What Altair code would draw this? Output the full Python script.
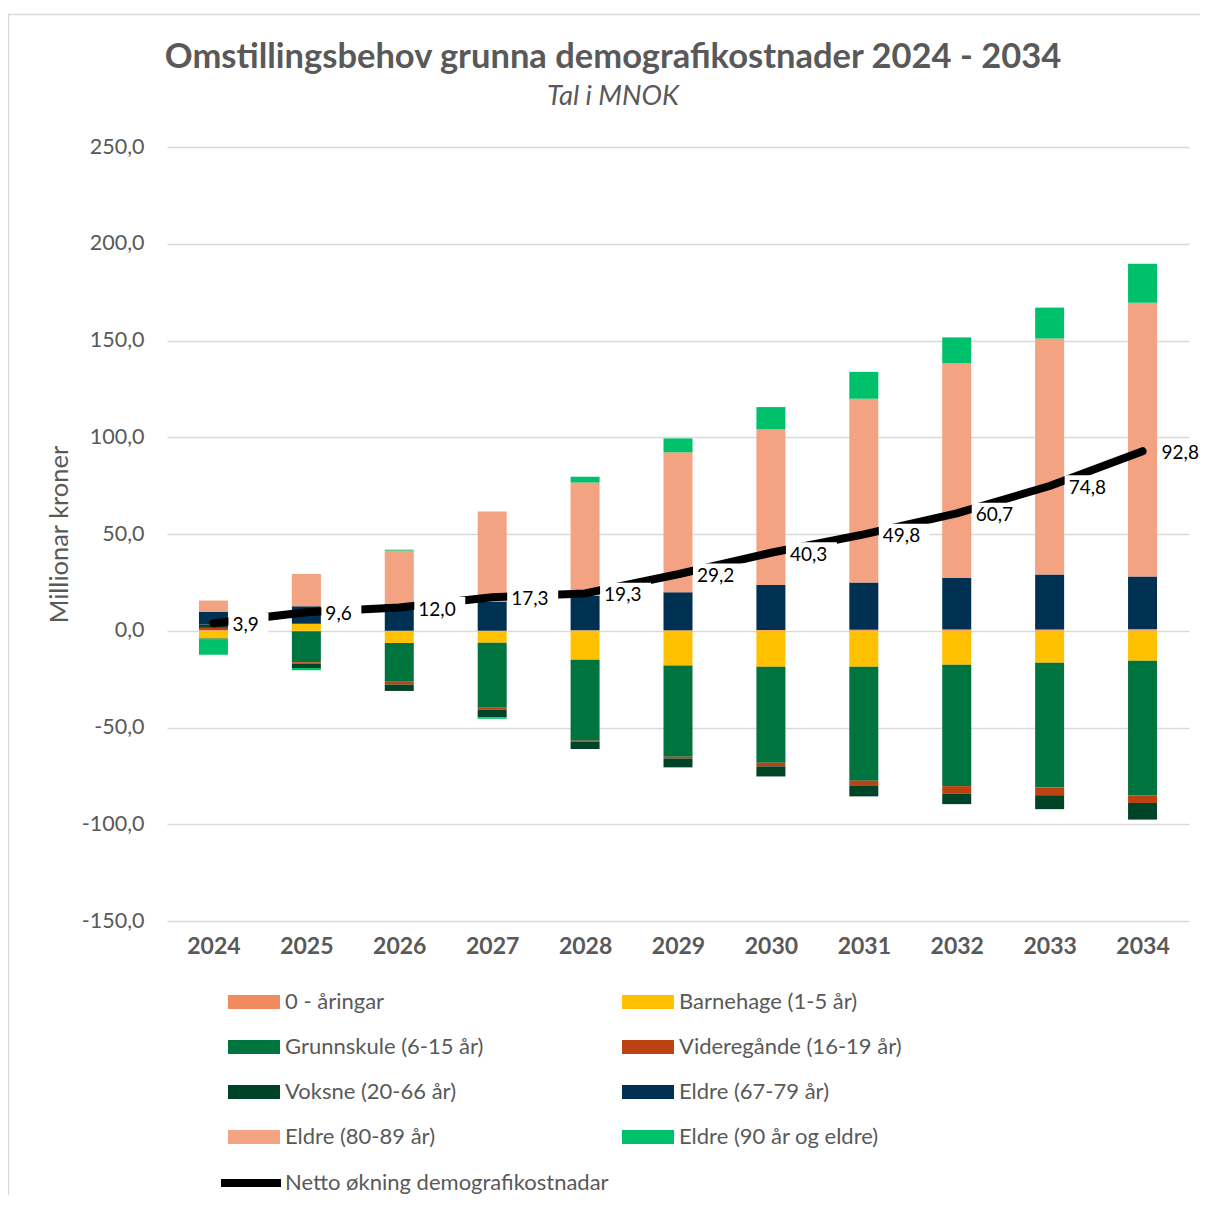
import altair as alt
import pandas as pd

years = [2024, 2025, 2026, 2027, 2028, 2029, 2030, 2031, 2032, 2033, 2034]

series = [
    "0 - åringar",
    "Barnehage (1-5 år)",
    "Grunnskule (6-15 år)",
    "Videregånde (16-19 år)",
    "Voksne (20-66 år)",
    "Eldre (67-79 år)",
    "Eldre (80-89 år)",
    "Eldre (90 år og eldre)",
]
colors = ["#F08A5F", "#FFC000", "#00743F", "#BC4212", "#004427", "#003152", "#F3A381", "#00C16B"]

null_aar = [0.3, -0.3, -0.3, -0.2, 0.2, 0.3, 0.4, 0.5, 0.6, 0.7, 0.9]
barnehage = [-4.0, 3.6, -6.0, -6.0, -15.0, -17.9, -18.6, -18.6, -17.6, -16.5, -15.5]
grunnskule = [-0.6, -16.0, -20.1, -33.6, -41.8, -47.2, -49.6, -58.9, -62.7, -64.4, -69.5]
videregaande = [1.2, -0.7, -1.4, -1.0, -0.5, -0.9, -1.9, -2.4, -3.8, -4.1, -4.0]
voksne = [1.7, -2.2, -3.3, -4.0, -3.8, -4.6, -5.2, -5.7, -5.5, -7.2, -8.6]
eldre_67_79 = [6.5, 9.0, 14.0, 15.1, 17.7, 19.6, 23.2, 24.4, 26.7, 28.4, 27.2]
eldre_80_89 = [5.9, 16.7, 27.4, 46.5, 58.7, 72.3, 80.6, 95.0, 110.9, 121.9, 141.4]
eldre_90 = [-7.8, -1.2, 0.5, -0.7, 3.0, 7.2, 11.4, 13.9, 13.4, 16.0, 20.1]

netto = [3.9, 9.6, 12.0, 17.3, 19.3, 29.2, 40.3, 49.8, 60.7, 74.8, 92.8]
netto_name = "Netto økning demografikostnadar"

title_text = "Omstillingsbehov grunna demografikostnader 2024 - 2034"
subtitle_text = "Tal i MNOK"

FONT = "Lato"
GREY = "#595959"

values = [null_aar, barnehage, grunnskule, videregaande, voksne, eldre_67_79, eldre_80_89, eldre_90]
rows = []
for si, (name, vals) in enumerate(zip(series, values)):
    for y, v in zip(years, vals):
        rows.append({"year": y, "serie": name, "value": v, "order": si})
bars_df = pd.DataFrame(rows)

line_df = pd.DataFrame({
    "year": years,
    "netto": netto,
    "serie": [netto_name] * len(years),
    "label": [f"{v:.1f}".replace(".", ",") for v in netto],
})

W, H = 1022, 774
px_per_year = W / 11.0

xscale = alt.Scale(domain=[2023.5, 2034.5], nice=False, zero=False, padding=0)
yscale = alt.Scale(domain=[-150, 250], nice=False)

x_axis = alt.Axis(
    values=years, format="d", title=None, grid=False, domain=False, ticks=False,
    labelFont=FONT, labelFontSize=23, labelFontWeight="bold", labelColor=GREY,
    labelPadding=14,
)
y_axis = alt.Axis(
    values=list(range(-150, 251, 50)), title="Millionar kroner",
    labelExpr="replace(replace(format(datum.value, '.1f'), '.', ','), '\u2212', '-')",
    grid=True, gridColor="#d9d9d9", gridWidth=1.4, domain=False, ticks=False,
    labelFont=FONT, labelFontSize=21.5, labelColor=GREY, labelPadding=23,
    titleFont=FONT, titleFontSize=25.5, titleFontWeight="normal", titleColor=GREY,
    titlePadding=9,
)

bars = alt.Chart(bars_df).mark_bar(size=29).encode(
    x=alt.X("year:Q", scale=xscale, axis=x_axis),
    y=alt.Y("value:Q", scale=yscale, axis=y_axis, stack="zero"),
    color=alt.Color(
        "serie:N",
        scale=alt.Scale(domain=series, range=colors),
        sort=series,
        legend=alt.Legend(
            orient="none", direction="horizontal", legendX=61, legendY=829,
            columns=2, columnPadding=138, rowPadding=8,
            symbolType="M-1,-0.27L1,-0.27L1,0.27L-1,0.27Z",
            symbolSize=2704, symbolStrokeWidth=0, symbolOpacity=1,
            labelFont=FONT, labelFontSize=22, labelColor=GREY, labelOffset=5,
            labelLimit=400, title=None, padding=0,
        ),
    ),
    order=alt.Order("order:Q", sort="ascending"),
)

line = alt.Chart(line_df).mark_line(strokeWidth=8, strokeCap="round", strokeJoin="round").encode(
    x=alt.X("year:Q", scale=xscale),
    y=alt.Y("netto:Q", scale=yscale),
    stroke=alt.Stroke(
        "serie:N",
        scale=alt.Scale(domain=[netto_name], range=["#000000"]),
        legend=alt.Legend(
            orient="none", legendX=50, legendY=1002, symbolType="stroke",
            symbolSize=3600, symbolStrokeWidth=8,
            labelFont=FONT, labelFontSize=22, labelColor=GREY, labelOffset=0,
            labelLimit=400, title=None, padding=0,
        ),
    ),
)

boxes = alt.Chart(line_df).transform_calculate(
    bx0=f"datum.year + 15 / {px_per_year}",
    bx1=f"datum.year + (22 + 11 * length(datum.label)) / {px_per_year}",
    by0="datum.netto - 5.5",
    by1="datum.netto + 5.5",
).mark_rect(fill="white").encode(
    x=alt.X("bx0:Q", scale=xscale),
    x2="bx1:Q",
    y=alt.Y("by0:Q", scale=yscale),
    y2="by1:Q",
)

labels = alt.Chart(line_df).mark_text(
    align="left", baseline="middle", dx=19, dy=2, font=FONT, fontSize=19, color="#000000"
).encode(
    x=alt.X("year:Q", scale=xscale),
    y=alt.Y("netto:Q", scale=yscale),
    text="label:N",
)

one = pd.DataFrame({"a": [0]})
frame = alt.Chart(one).mark_rect(
    fill=None, stroke="#d9d9d9", strokeWidth=1.5
).encode(
    x=alt.value(-158.5), x2=alt.value(1200), y=alt.value(-132.5), y2=alt.value(1200)
)

title = alt.Chart(one).mark_text(
    text=title_text, font=FONT, fontSize=34.5, fontWeight="bold", color=GREY,
    align="center", baseline="middle",
).encode(x=alt.value(446), y=alt.value(-89))

subtitle = alt.Chart(one).mark_text(
    text=subtitle_text, font=FONT, fontSize=27.5, fontStyle="italic", color=GREY,
    align="center", baseline="middle",
).encode(x=alt.value(446), y=alt.value(-50))

chart = alt.layer(bars, line, boxes, labels, frame, title, subtitle).resolve_scale(
    color="independent", stroke="independent"
).properties(
    width=W,
    height=H,
    autosize=alt.AutoSizeParams(type="none"),
    padding={"left": 159, "top": 139, "right": 11, "bottom": 274},
).configure_view(stroke=None)

chart.save("out.html", embed_options={"renderer": "svg", "actions": False})
